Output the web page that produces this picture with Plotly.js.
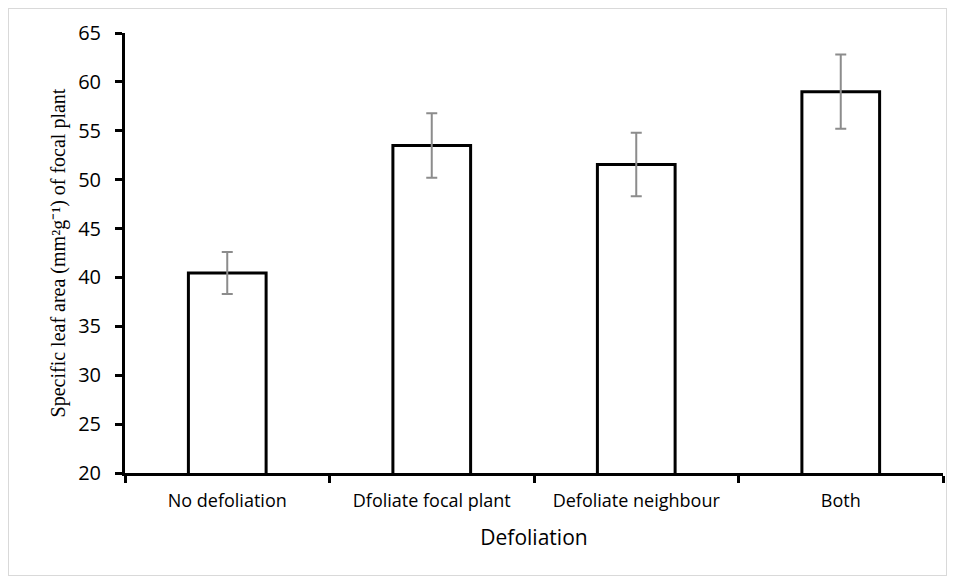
<!DOCTYPE html>
<html>
<head>
<meta charset="utf-8">
<script src="https://cdn.plot.ly/plotly-3.0.1.min.js"></script>
<style>
html,body{margin:0;padding:0;background:#fff;}
#wrap{position:relative;width:956px;height:579px;}
#chart{width:956px;height:579px;}
#frame{position:absolute;left:8px;top:8px;width:939px;height:568px;border:1px solid #d9d9d9;pointer-events:none;box-sizing:border-box;}
</style>
</head>
<body>
<div id="wrap"><div id="chart"></div><div id="frame"></div></div>
<script>
const categories = ["No defoliation", "Dfoliate focal plant", "Defoliate neighbour", "Both"];
const meanSLA = [40.45, 53.5, 51.55, 59.0];
const errSLA = [2.15, 3.3, 3.25, 3.8];
const yTicks = [20, 25, 30, 35, 40, 45, 50, 55, 60, 65];

const trace = {
  type: "bar",
  x: categories,
  y: meanSLA,
  marker: {color: "#ffffff", line: {color: "#000000", width: 3}},
  error_y: {type: "data", array: errSLA, visible: true, color: "#8c8c8c", thickness: 2, width: 5.5},
  hoverinfo: "none"
};

const layout = {
  width: 956, height: 579,
  margin: {l: 125, r: 13, t: 33, b: 106},
  paper_bgcolor: "#ffffff", plot_bgcolor: "#ffffff",
  showlegend: false,
  bargap: 0.62,
  xaxis: {
    type: "category",
    showline: true, linecolor: "#000", linewidth: 3,
    ticks: "outside", tickson: "boundaries", ticklen: 7, tickwidth: 3, tickcolor: "#000",
    ticklabelstandoff: 9,
    tickfont: {family: "Open Sans, Liberation Sans, sans-serif", size: 18, color: "#000"},
    showgrid: false, zeroline: false,
    title: {text: "Defoliation", font: {family: "Open Sans, Liberation Sans, sans-serif", size: 21, color: "#000"}, standoff: 20}
  },
  yaxis: {
    range: [20, 65], tickvals: yTicks, ticktext: yTicks.map(String),
    showline: true, linecolor: "#000", linewidth: 3,
    ticks: "outside", ticklen: 7, tickwidth: 3, tickcolor: "#000",
    ticklabelstandoff: 10,
    tickfont: {family: "Open Sans, Liberation Sans, sans-serif", size: 20, color: "#000"},
    showgrid: false, zeroline: false,
    title: {text: "Specific leaf area (mm²g⁻¹) of focal plant", font: {family: "Liberation Serif, Times New Roman, serif", size: 20, color: "#000"}, standoff: 8}
  }
};

Plotly.newPlot("chart", [trace], layout, {staticPlot: true, displayModeBar: false});
</script>
</body>
</html>
